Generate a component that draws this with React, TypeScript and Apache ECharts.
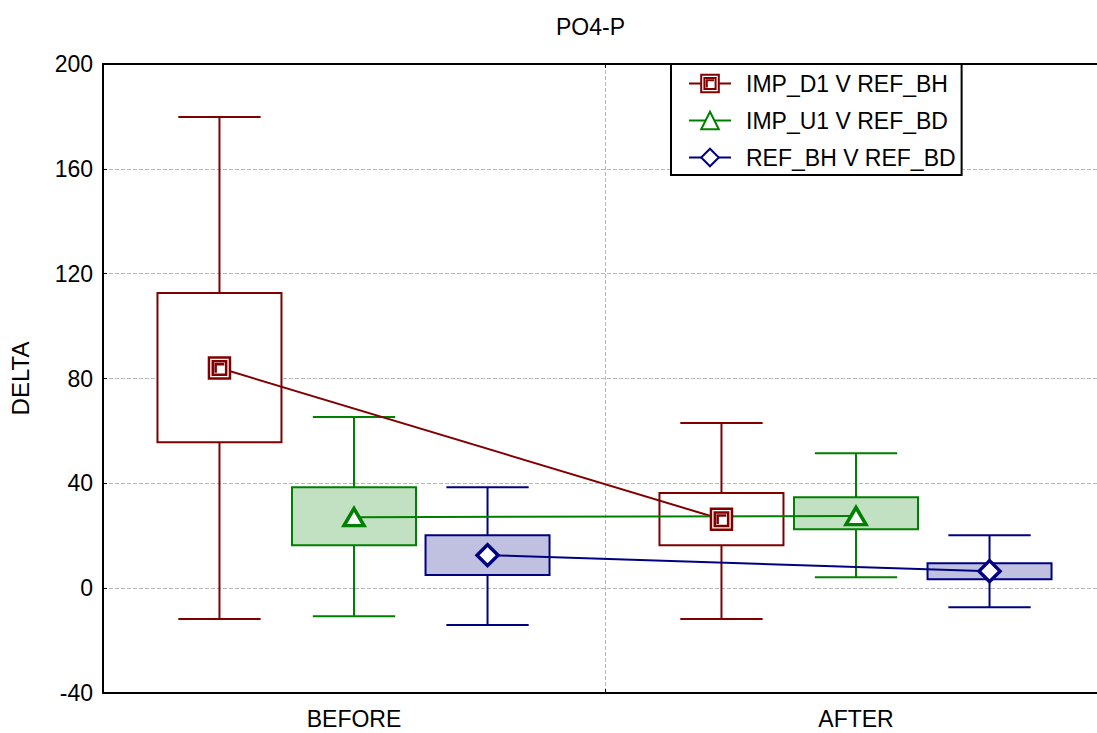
import React, { useEffect, useRef } from "react";
import * as echarts from "echarts";

const categories = ["BEFORE", "AFTER"];
const seriesNames = ["IMP_D1 V REF_BH", "IMP_U1 V REF_BD", "REF_BH V REF_BD"];
const offsets = [-0.268, 0, 0.266];
// [low whisker, q1, q3, high whisker] per category
const boxD1 = [[-11.8, 55.7, 112.6, 179.8], [-11.8, 16.4, 36.3, 63]];
const boxU1 = [[-10.7, 16.4, 38.5, 65.3], [4.2, 22.5, 34.7, 51.5]];
const boxBH = [[-14.1, 5.0, 20.2, 38.5], [-7.3, 3.4, 9.5, 20.2]];
const meanD1 = [84, 26.3];
const meanU1 = [27.1, 27.5];
const meanBH = [12.6, 6.5];
const yTicks = { min: -40, max: 200, interval: 40 };

const colors = ["#800000", "#008000", "#000080"];
const fills = ["#ffffff", "#c2e0c2", "#c0c0e0"];
const boxes = [boxD1, boxU1, boxBH];
const means = [meanD1, meanU1, meanBH];

const FONT = "Liberation Sans, Arial, sans-serif";

const squareSymbol =
  "path://M0,0 L22,0 L22,22 L0,22 Z M4,4 L18,4 L18,18 L4,18 Z M7,16 L7,7 L16,7";

export default function App() {
  const ref = useRef<HTMLDivElement>(null);
  useEffect(() => {
    if (!ref.current) return;
    const chart = echarts.init(ref.current, null, { renderer: "svg" });
    const boxW = 0.247;
    const capW = 0.164;
    const series: any[] = [];
    boxes.forEach((b, si) => {
      const color = colors[si];
      const fill = fills[si];
      series.push({
        type: "custom",
        name: seriesNames[si] + " box",
        xAxisIndex: 2,
        yAxisIndex: 0,
        data: b.map((v, ci) => [ci + offsets[si], v[0], v[1], v[2], v[3]]),
        renderItem: (params: any, api: any) => {
          const x = api.value(0);
          const lo = api.coord([x, api.value(1)]);
          const q1 = api.coord([x, api.value(2)]);
          const q3 = api.coord([x, api.value(3)]);
          const hi = api.coord([x, api.value(4)]);
          const bw = api.size([boxW, 0])[0];
          const cw = api.size([capW, 0])[0];
          const cx = lo[0];
          const ls = { stroke: color, lineWidth: 2 };
          return {
            type: "group",
            children: [
              { type: "line", shape: { x1: cx, y1: hi[1], x2: cx, y2: q3[1] }, style: ls },
              { type: "line", shape: { x1: cx, y1: q1[1], x2: cx, y2: lo[1] }, style: ls },
              { type: "line", shape: { x1: cx - cw / 2, y1: hi[1], x2: cx + cw / 2, y2: hi[1] }, style: ls },
              { type: "line", shape: { x1: cx - cw / 2, y1: lo[1], x2: cx + cw / 2, y2: lo[1] }, style: ls },
              {
                type: "rect",
                shape: { x: cx - bw / 2, y: q3[1], width: bw, height: q1[1] - q3[1] },
                style: { fill: fill, stroke: color, lineWidth: 2 },
              },
            ],
          };
        },
        silent: true,
      });
      const sym = si === 0 ? squareSymbol : si === 1 ? "triangle" : "diamond";
      series.push({
        type: "line",
        name: seriesNames[si],
        xAxisIndex: 2,
        yAxisIndex: 0,
        data: means[si].map((m, ci) => [ci + offsets[si], m]),
        symbol: sym,
        symbolSize: si === 0 ? 21 : si === 1 ? [20, 17] : [21, 21],
        showSymbol: true,
        lineStyle: { color, width: 2 },
        itemStyle: { color: "#ffffff", borderColor: color, borderWidth: si === 0 ? 2.5 : 3.5 },
        silent: true,
      });
    });

    const split = { show: true, showMinLine: false, showMaxLine: false, lineStyle: { color: "#b8b8b8", type: [4, 2], width: 1 } };

    chart.setOption({
      animation: false,
      backgroundColor: "#ffffff",
      title: {
        text: "PO4-P",
        left: 551,
        top: 10,
        textStyle: { fontFamily: FONT, fontSize: 23, fontWeight: "normal", color: "#000" },
      },
      legend: {
        data: seriesNames,
        orient: "vertical",
        left: 671,
        top: 64,
        padding: [8, 6, 6, 17],
        itemWidth: 42,
        itemHeight: 22,
        itemGap: 14,
        backgroundColor: "#ffffff",
        borderColor: "#000000",
        borderWidth: 2,
        borderRadius: 0,
        textStyle: {
          fontFamily: FONT,
          fontSize: 23,
          color: "#000",
          padding: [0, 0, 0, 10],
        },
      },
      grid: {
        left: 103,
        top: 64,
        right: 43,
        bottom: 40,
        show: false,
      },
      xAxis: [
        {
          type: "category",
          data: categories,
          boundaryGap: true,
          position: "bottom",
          axisLine: { show: true, onZero: false, lineStyle: { color: "#000", width: 2 } },
          axisTick: { show: true, inside: true, length: 4, lineStyle: { color: "#000" } },
          axisLabel: { fontFamily: FONT, fontSize: 23, color: "#000", margin: 14 },
          splitLine: split,
        },
        {
          type: "category",
          data: categories,
          boundaryGap: true,
          position: "top",
          axisLine: { show: true, onZero: false, lineStyle: { color: "#000", width: 2 } },
          axisTick: { show: true, inside: true, length: 4, lineStyle: { color: "#000" } },
          axisLabel: { show: false },
          splitLine: { show: false },
        },
        { type: "value", min: -0.5, max: 1.5, show: false },
      ],
      yAxis: {
        type: "value",
        min: yTicks.min,
        max: yTicks.max,
        interval: yTicks.interval,
        name: "DELTA",
        nameLocation: "middle",
        nameGap: 71,
        nameTextStyle: { fontFamily: FONT, fontSize: 24, color: "#000" },
        axisLine: { show: true, onZero: false, lineStyle: { color: "#000", width: 2 } },
        axisTick: { show: true, inside: true, length: 4, lineStyle: { color: "#000" } },
        axisLabel: { fontFamily: FONT, fontSize: 23, color: "#000", margin: 10 },
        splitLine: split,
      },
      series,
    });
    return () => chart.dispose();
  }, []);
  return (
    <div style={{ position: "fixed", left: 0, top: 0, width: 1097, height: 733, overflow: "hidden", background: "#fff" }}>
      <div ref={ref} style={{ width: 1150, height: 733 }} />
    </div>
  );
}
